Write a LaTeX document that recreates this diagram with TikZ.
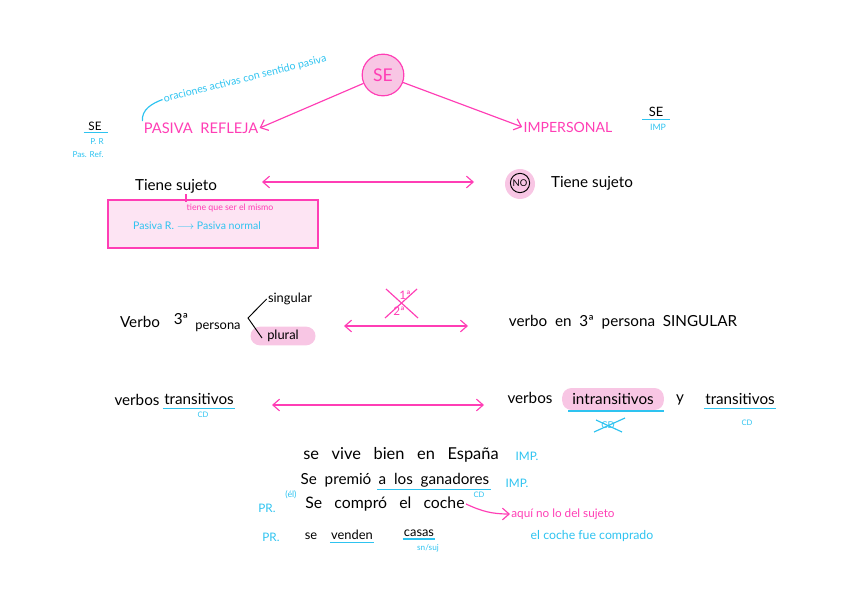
\documentclass[tikz,border=0pt]{standalone}
\usepackage{fontspec}
\setmainfont{Lato}
\usetikzlibrary{positioning}
\usetikzlibrary{arrows.meta}
\definecolor{inkpink}{HTML}{FF3EB5}
\definecolor{inkcyan}{HTML}{2EC3F0}
\definecolor{pinkfill}{HTML}{F8C6E4}
\definecolor{boxfill}{HTML}{FDE4F3}

\begin{document}
\begin{tikzpicture}[
        x=0.03cm, y=-0.03cm,
        >={Straight Barb[length=2mm,width=3.5mm]},
        pinkline/.style={draw=inkpink, line width=1pt},
        cyanline/.style={draw=inkcyan, line width=1pt},
        inkline/.style={draw=black, line width=0.8pt},
        inktext/.style={font=\fontsize{13}{15}\selectfont, inner sep=1pt},
        pinktext/.style={text=inkpink, font=\fontsize{12}{14}\selectfont, inner sep=1pt},
        cyantext/.style={text=inkcyan, font=\fontsize{9}{11}\selectfont, inner sep=1pt},
        hlnode/.style={fill=pinkfill, rounded corners=8pt, inner sep=3pt},
        roundnode/.style={circle, draw=inkpink, fill=pinkfill, line width=1pt, minimum size=1.25cm, text=inkpink, font=\fontsize{15}{17}\selectfont}
    ]
        \useasboundingbox (0,0) rectangle (848,599);

        % top: SE and its two kinds
        \node [roundnode] (SE) at (383,75) {SE};
        \node [pinktext, font=\fontsize{12.5}{14}\selectfont] (Pasiva) at (201,128) {PASIVA \ REFLEJA};
        \node [pinktext] (Impers) at (568,127) {IMPERSONAL};
        \path[->,pinkline] (SE) edge (Pasiva.east) ;
        \path[->,pinkline] (SE) edge (Impers.west) ;

        \node [cyantext, rotate=14] (Orac) at (245,79) {oraciones activas con sentido pasiva};
        \draw [cyanline] (Pasiva.north west) to [out=95,in=200] (Orac.west) ;

        \node [inktext, font=\fontsize{10}{12}\selectfont] (SeLeft) at (95,126) {SE};
        \draw [cyanline] ([xshift=-0.1cm,yshift=-1pt]SeLeft.south west) -- ([xshift=0.15cm,yshift=-1pt]SeLeft.south east) ;
        \node [cyantext, font=\fontsize{7}{8}\selectfont] (PR) at (97,142) {P. R};
        \node [cyantext, font=\fontsize{7}{8}\selectfont] (PasRef) at (88,155) {Pas. Ref.};

        \node [inktext, font=\fontsize{11}{13}\selectfont] (SeRight) at (656,112) {SE};
        \draw [cyanline] ([xshift=-0.15cm,yshift=-1pt]SeRight.south west) -- ([xshift=0.15cm,yshift=-1pt]SeRight.south east) ;
        \node [cyantext, font=\fontsize{7.5}{8}\selectfont] (Imp) at (658,127) {IMP};

        % row 1: sujeto
        \node [inktext] (Tiene) at (176,186) {Tiene sujeto};
        \node [draw=inkpink, fill=boxfill, line width=1pt, minimum width=6.3cm, minimum height=1.44cm] (Box) at (213,224) {};
        \draw [pinkline] ([xshift=0.3cm]Tiene.south) -- ++(0,8) ;
        \node [pinktext, font=\fontsize{7.5}{9}\selectfont] (Mismo) at (230,208) {tiene que ser el mismo};
        \node [cyantext] (Normal) at (197,226) {Pasiva R. $\longrightarrow$ Pasiva normal};
        \node [circle, fill=pinkfill, minimum size=0.9cm] (NoBlob) at (520,184) {};
        \node [circle, draw=black, line width=0.8pt, inner sep=1pt, font=\fontsize{8}{9}\selectfont] (No) at (520,183) {NO};
        \node [inktext] (NoTiene) at (592,183) {Tiene sujeto};
        \coordinate (A1l) at (262,182);
        \coordinate (A1r) at (474,182);
        \draw [<->,pinkline] (A1l) -- (A1r) ;

        % row 2: persona
        \node [inktext] (Verbo) at (140,322) {Verbo};
        \node [inktext] (Tres) at (181,319) {3ª};
        \node [inktext, font=\fontsize{11}{13}\selectfont] (Persona) at (218,327) {persona};
        \node [inktext, font=\fontsize{11}{13}\selectfont] (Singular) at (290,299) {singular};
        \node [inktext, font=\fontsize{11}{13}\selectfont, hlnode, minimum width=1.95cm] (Plural) at (283,336) {plural};
        \coordinate (Brk) at (248,318);
        \draw [inkline] (Singular.west) -- (Brk) -- ++(14,20) ;
        \node [pinktext, font=\fontsize{10}{11}\selectfont] (Uno) at (405,295) {1ª};
        \node [pinktext, font=\fontsize{10}{11}\selectfont] (Dos) at (399,311) {2ª};
        \draw [pinkline] (386,289) -- (418,318) ;
        \draw [pinkline] (417,289) -- (385,318) ;
        \coordinate (A2l) at (344,326);
        \coordinate (A2r) at (468,326);
        \draw [<->,pinkline] (A2l) -- (A2r) ;
        \node [inktext] (Singul) at (623,322) {verbo \ en \ 3ª \ persona \ SINGULAR};

        % row 3: transitivos
        \node [inktext] (Verbos) at (137,400) {verbos};
        \node [inktext] (Trans) at (199,399) {transitivos};
        \draw [cyanline] ([yshift=-2pt]Trans.south west) -- ([yshift=-2pt]Trans.south east) ;
        \node [cyantext, font=\fontsize{6.5}{7}\selectfont] (CdA) at (203,415) {CD};
        \coordinate (A3l) at (272,405);
        \coordinate (A3r) at (484,405);
        \draw [<->,pinkline] (A3l) -- (A3r) ;
        \node [inktext] (VerbosB) at (530,398) {verbos};
        \node [inktext, hlnode, minimum width=3.05cm, minimum height=0.66cm] (Intrans) at (613,399) {intransitivos};
        \draw [cyanline] (568,411) -- (664,411) ;
        \node [cyantext, font=\fontsize{8}{9}\selectfont] (CdX) at (608,425) {CD};
        \draw [cyanline] (594,432) -- (625,418) ;
        \draw [cyanline] (596,420) -- (622,432) ;
        \node [inktext] (Y) at (680,400) {y};
        \node [inktext] (TransB) at (740,399) {transitivos};
        \draw [cyanline] ([yshift=-2pt]TransB.south west) -- ([yshift=-2pt]TransB.south east) ;
        \node [cyantext, font=\fontsize{6.5}{7}\selectfont] (CdB) at (747,423) {CD};

        % examples
        \node [inktext, font=\fontsize{14}{16}\selectfont] (Vive) at (401,455) {se \ \ vive \ \ bien \ \ en \ \ España};
        \node [cyantext, font=\fontsize{10}{12}\selectfont] (ImpA) at (527,456) {IMP.};
        \node [inktext] (Premio) at (336,480) {Se \ premió};
        \node [inktext] (Ganad) at (434,480) {a \ los \ ganadores};
        \draw [cyanline] ([yshift=-1pt]Ganad.south west) -- ([yshift=-1pt]Ganad.south east) ;
        \node [cyantext, font=\fontsize{10}{12}\selectfont] (ImpB) at (517,483) {IMP.};
        \node [cyantext, font=\fontsize{6.5}{7}\selectfont] (CdC) at (479,495) {CD};
        \node [cyantext, font=\fontsize{10}{12}\selectfont] (PrA) at (267,508) {PR.};
        \node [cyantext, font=\fontsize{7.5}{8}\selectfont] (El) at (291,495) {(él)};
        \node [inktext, font=\fontsize{13.5}{15}\selectfont] (Compro) at (385,504) {Se \ \ compró \ \ el \ \ coche};
        \node [pinktext, font=\fontsize{10}{12}\selectfont] (Aqui) at (563,514) {aquí no lo del sujeto};
        \draw [->,pinkline] (Compro.east) to [out=-25,in=180] (Aqui.west) ;
        \node [cyantext, font=\fontsize{10.5}{12}\selectfont] (Fue) at (592,536) {el coche fue comprado};
        \node [cyantext, font=\fontsize{10}{12}\selectfont] (PrB) at (271,537) {PR.};
        \node [inktext, font=\fontsize{11}{13}\selectfont] (SeB) at (311,536) {se};
        \node [inktext, font=\fontsize{11}{13}\selectfont] (Venden) at (352,535) {venden};
        \draw [cyanline] ([yshift=-1pt]Venden.south west) -- ([yshift=-1pt]Venden.south east) ;
        \node [inktext, font=\fontsize{11}{13}\selectfont] (Casas) at (419,533) {casas};
        \draw [cyanline] ([yshift=-1pt]Casas.south west) -- ([yshift=-1pt]Casas.south east) ;
        \node [cyantext, font=\fontsize{7}{8}\selectfont] (SnSuj) at (428,548) {sn/suj};

    \end{tikzpicture}
\end{document}
